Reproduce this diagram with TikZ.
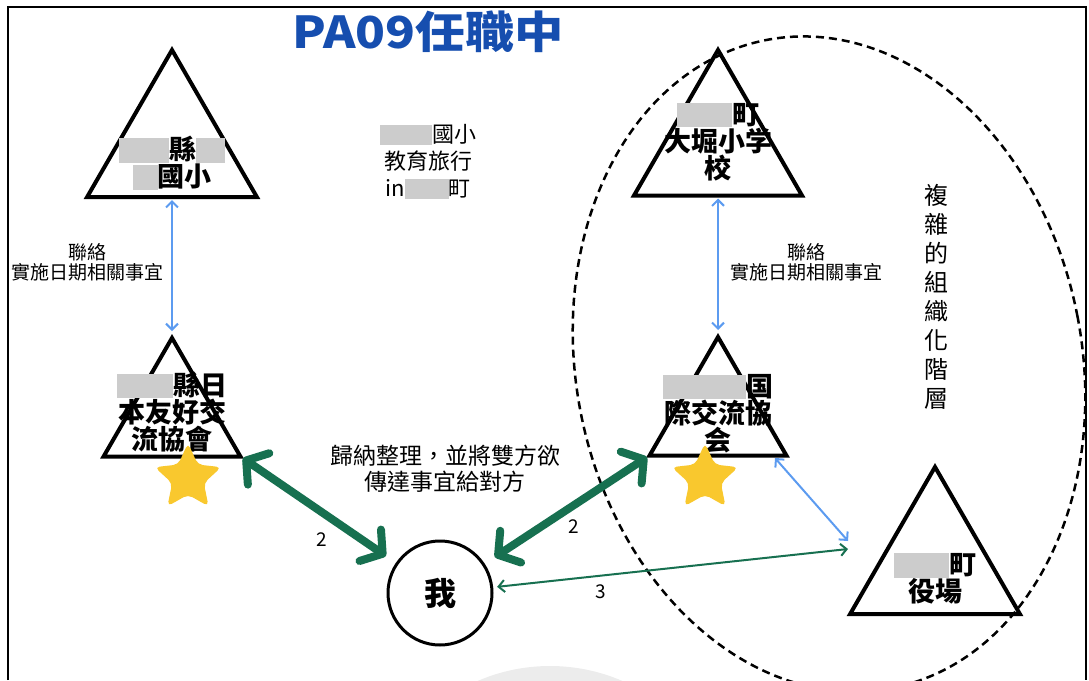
\documentclass[tikz,border=0pt]{standalone}
\usepackage{fontspec}
\setmainfont{Noto Sans CJK TC}
\usetikzlibrary{shapes.geometric,arrows.meta,positioning}
\definecolor{pagreen}{RGB}{23,112,80}
\definecolor{pablue}{RGB}{92,155,240}
\definecolor{pastar}{RGB}{249,200,46}
\definecolor{patitle}{RGB}{22,78,175}
\newcommand{\blurbox}[1]{{\color{gray!40}\rule[-0.1em]{#1pt}{0.9em}}}
\tikzset{
  tri/.style={regular polygon, regular polygon sides=3, draw, line width=4pt, inner sep=0pt, outer sep=0pt},
  tritext/.style={font=\bfseries\fontsize{27}{27}\selectfont, align=center},
  note/.style={font=\fontsize{22}{27}\selectfont, align=center},
  small note/.style={font=\fontsize{19}{20}\selectfont, align=center},
  link/.style={pablue, line width=2pt, {Straight Barb[length=6pt,width=12pt]}-{Straight Barb[length=6pt,width=12pt]}},
  thin relay/.style={pagreen, line width=2pt, {Straight Barb[length=6pt,width=12pt]}-{Straight Barb[length=6pt,width=12pt]}},
  relay/.style={pagreen, line width=8pt, {Straight Barb[round,length=15pt,width=38pt]}-{Straight Barb[round,length=15pt,width=38pt]}},
  starshape/.style={star, star points=5, star point ratio=2.1, minimum size=70pt, fill=pastar, rounded corners=5pt, inner sep=0pt}
}
\begin{document}
\begin{tikzpicture}[x=1pt,y=-1pt]
\useasboundingbox (0,0) rectangle (1089,680);

% Draw faint mark and frame.
\begin{scope}
\clip (0,0) rectangle (1089,680);
\fill[gray!15] (550,848) circle (182);
\end{scope}
\draw[line width=1.5pt] (8,680) -- (8,7) -- (1086,7) -- (1086,680);

% Title.
\node[font=\bfseries\fontsize{44}{44}\selectfont, text=patitle] (title) at (428,32) {\scalebox{1.12}[1]{PA09任職中}};

% Draw triangles.
\foreach \n/\x/\y/\s in {t1/172/148/196, t2/718/147/194, t3/172/417/158, t4/718/416/158, t5/935/565/196}
\node[tri, minimum size=\s pt] (\n) at (\x,\y) {};

% Texts in triangles.
\node[tritext, yshift=-15pt] (t1text) at (t1.center) {\blurbox{50}縣\blurbox{29}\\\blurbox{25}國小};
\node[tritext, yshift=5pt] (t2text) at (t2.center) {\blurbox{55}町\\大堀小学\\校};
\node[tritext, yshift=5pt] (t3text) at (t3.center) {\blurbox{56}縣日\\本友好交\\流協會};
\node[tritext, yshift=2pt] (t4text) at (t4.center) {\blurbox{83}国\\際交流協\\会};
\node[tritext, yshift=-14pt] (t5text) at (t5.center) {\blurbox{55}町\\役場};

% Stars.
\node[starshape] (star1) at (188,478) {};
\node[starshape] (star2) at (705,478) {};

% Me.
\node[circle, draw, line width=3pt, minimum size=104pt, font=\bfseries\fontsize{32}{32}\selectfont] (me) at (440,593) {我};

% Notes.
\node[note] (trip) at (428,162) {\blurbox{52}國小\\教育旅行\\in\blurbox{44}町};
\node[small note] (contact1) at (88,262) {聯絡\\實施日期相關事宜};
\node[small note] (contact2) at (806,262) {聯絡\\實施日期相關事宜};
\node[note, font=\fontsize{23}{26}\selectfont] (sort) at (445,469) {歸納整理，並將雙方欲\\傳達事宜給對方};
\node[font=\fontsize{24}{29}\selectfont, align=center] (layer) at (936,297) {複\\雜\\的\\組\\織\\化\\階\\層};

% Dashed circle round the town.
\draw[line width=2.5pt, dash pattern=on 8pt off 5pt, rotate around={11:(829,364)}] (829,364) ellipse (253 and 330);

% Draw connectors.
\coordinate (t4out) at (775,458);
\coordinate (t5blue) at (848,541);
\coordinate (t5green) at (848,549);
\draw[link, shorten <=3pt, shorten >=7pt] (t1.side 2) -- (t3.corner 1);
\draw[link, shorten <=3pt, shorten >=7pt] (t2.side 2) -- (t4.corner 1);
\draw[link] (t4out) -- (t5blue);
\draw[relay, shorten <=3pt, shorten >=12pt] (t3.corner 3) -- (me);
\draw[relay, shorten <=3pt, shorten >=12pt] (t4.corner 2) -- (me);
\draw[thin relay, shorten <=4pt] (me) -- (t5green);

% Step numbers.
\node[font=\fontsize{19}{19}\selectfont] (num1) at (322,540) {2};
\node[font=\fontsize{19}{19}\selectfont] (num2) at (574,527) {2};
\node[font=\fontsize{19}{19}\selectfont] (num3) at (601,592) {3};
\end{tikzpicture}
\end{document}
